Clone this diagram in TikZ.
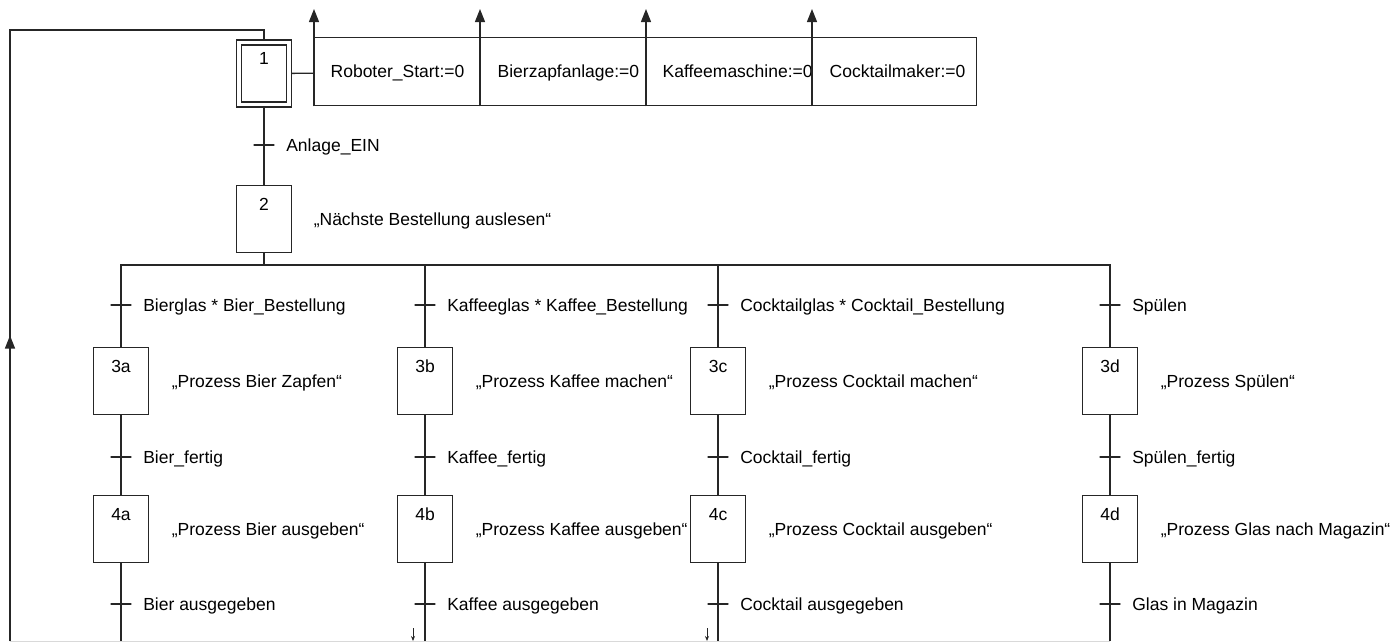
\documentclass[tikz,border=0pt]{standalone}
\usepackage{fontspec}
\setmainfont{Liberation Sans}
\usetikzlibrary{arrows.meta, positioning, calc}

\begin{document}
\begin{tikzpicture}[
    x=1pt, y=-1pt,
    font=\fontsize{17.5}{20}\selectfont,
    color=black!85, line width=1.3pt,
    schritt/.style={rectangle, draw, anchor=north, minimum width=55pt, inner xsep=0pt, inner ysep=12.5pt, text height=12.5pt, text depth=29.5pt, text=black},
    startschritt/.style={schritt, double, double distance=3.7pt, minimum width=50pt, inner ysep=9.5pt, text depth=30.5pt, outer sep=2.5pt},
    uebergang/.style={rectangle, draw, minimum width=20pt, minimum height=0pt, inner sep=0pt, line join=round},
    ulabel/.style={inner sep=0pt, text height=12.5pt, text depth=0pt, text=black},
    kommentar/.style={ulabel},
    aktion/.style={rectangle, draw, anchor=north west, minimum width=662pt, minimum height=68pt},
    aktext/.style={ulabel, anchor=west},
    pfeil/.style={-{Triangle[length=13pt, width=10pt]}},
    minipfeil/.style={-{Stealth[length=5pt, width=4pt]}, line width=0.8pt},
]
\useasboundingbox (0,0) rectangle (1396,641);

% Startschritt mit Aktionen
\node[startschritt] (s1) at (264,40) {1};
\node[aktion] (akt) at (314,37) {};
\node[aktext] (a1) at (330,71) {Roboter\_Start:=0};
\node[aktext] (a2) at (497,71) {Bierzapfanlage:=0};
\node[aktext] (a3) at (662,71) {Kaffeemaschine:=0};
\node[aktext] (a4) at (829,71) {Cocktailmaker:=0};
\foreach \dx in {0,166,332,498}
  \draw[pfeil] ([xshift=\dx pt]akt.south west) -- ([xshift=\dx pt, yshift=28pt]akt.north west);
\draw (s1) -- (akt);

% Schritt 2
\node[uebergang] (t1) at (264,145) {};
\node[ulabel, right=11pt of t1] (l1) {Anlage\_EIN};
\node[schritt] (s2) at (264,185) {2};
\node[kommentar, right=21pt of s2] (k2) {„Nächste Bestellung auslesen“};
\draw (s1) -- (s2);

% Verzweigung
\coordinate (verz) at (264,265);
\draw (s2) -- (verz);

% Schritte 3
\node[schritt] (s3a) at (121,347) {3a};
\node[schritt] (s3b) at (425,347) {3b};
\node[schritt] (s3c) at (718,347) {3c};
\node[schritt] (s3d) at (1110,347) {3d};
\node[kommentar, right=22pt of s3a] (k3a) {„Prozess Bier Zapfen“};
\node[kommentar, right=22pt of s3b] (k3b) {„Prozess Kaffee machen“};
\node[kommentar, right=22pt of s3c] (k3c) {„Prozess Cocktail machen“};
\node[kommentar, right=22pt of s3d] (k3d) {„Prozess Spülen“};
\draw (s3a.north) |- (verz) -| (s3d.north);
\draw (s3b.north) -- (s3b.north |- verz);
\draw (s3c.north) -- (s3c.north |- verz);

% Schritte 4
\node[schritt] (s4a) at (121,495) {4a};
\node[schritt] (s4b) at (425,495) {4b};
\node[schritt] (s4c) at (718,495) {4c};
\node[schritt] (s4d) at (1110,495) {4d};
\node[kommentar, right=22pt of s4a] (k4a) {„Prozess Bier ausgeben“};
\node[kommentar, right=22pt of s4b] (k4b) {„Prozess Kaffee ausgeben“};
\node[kommentar, right=22pt of s4c] (k4c) {„Prozess Cocktail ausgeben“};
\node[kommentar, right=22pt of s4d] (k4d) {„Prozess Glas nach Magazin“};
\draw (s3a) -- (s4a);
\draw (s3b) -- (s4b);
\draw (s3c) -- (s4c);
\draw (s3d) -- (s4d);

% Uebergaenge
\node[uebergang] (t3a) at (121,305) {};
\node[uebergang] (t3b) at (425,305) {};
\node[uebergang] (t3c) at (718,305) {};
\node[uebergang] (t3d) at (1110,305) {};
\node[ulabel, right=11pt of t3a] {Bierglas * Bier\_Bestellung};
\node[ulabel, right=11pt of t3b] {Kaffeeglas * Kaffee\_Bestellung};
\node[ulabel, right=11pt of t3c] {Cocktailglas * Cocktail\_Bestellung};
\node[ulabel, right=11pt of t3d] {Spülen};
\node[uebergang] (t4a) at (121,457) {};
\node[uebergang] (t4b) at (425,457) {};
\node[uebergang] (t4c) at (718,457) {};
\node[uebergang] (t4d) at (1110,457) {};
\node[ulabel, right=11pt of t4a] {Bier\_fertig};
\node[ulabel, right=11pt of t4b] {Kaffee\_fertig};
\node[ulabel, right=11pt of t4c] {Cocktail\_fertig};
\node[ulabel, right=11pt of t4d] {Spülen\_fertig};
\node[uebergang] (t5a) at (121,604) {};
\node[uebergang] (t5b) at (425,604) {};
\node[uebergang] (t5c) at (718,604) {};
\node[uebergang] (t5d) at (1110,604) {};
\node[ulabel, right=11pt of t5a] {Bier ausgegeben};
\node[ulabel, right=11pt of t5b] {Kaffee ausgegeben};
\node[ulabel, right=11pt of t5c] {Cocktail ausgegeben};
\node[ulabel, right=11pt of t5d] {Glas in Magazin};

% Rueckfuehrung
\coordinate (ende) at (10,641);
\coordinate (oben) at (10,30);
\draw (ende) -- (oben) -| (s1.north);
\draw[pfeil] (ende) -- ($(ende)!0.5!(oben)$);
\draw[black!15, line width=0.8pt] (ende) -- (s4d.south |- ende);
\draw (s4a) -- (s4a.south |- ende);
\draw (s4b) -- (s4b.south |- ende);
\draw (s4c) -- (s4c.south |- ende);
\draw (s4d) -- (s4d.south |- ende);
\coordinate (mb) at (413,628);
\coordinate (mc) at (707,628);
\draw[minipfeil] (mb) -- (mb |- ende);
\draw[minipfeil] (mc) -- (mc |- ende);

\end{tikzpicture}
\end{document}
